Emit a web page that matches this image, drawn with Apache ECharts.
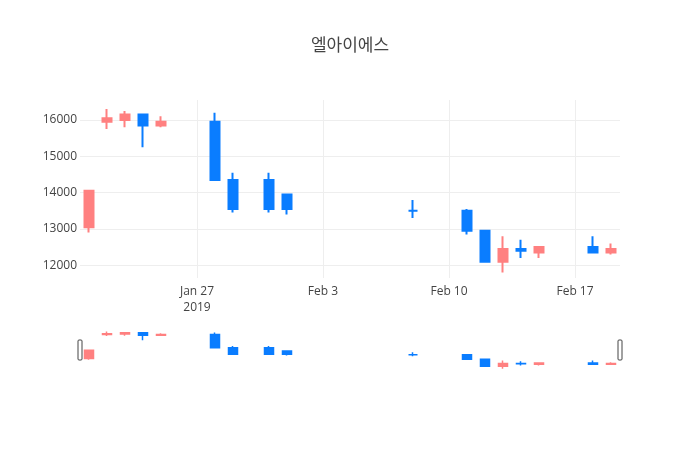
<!DOCTYPE html>
<html>
<head>
<meta charset="utf-8">
<script src="https://cdn.jsdelivr.net/npm/echarts@6/dist/echarts.min.js"></script>
<style>html,body{margin:0;padding:0;background:#fff;}#chart{width:700px;height:450px;}</style>
</head>
<body>
<div id="chart"></div>
<script>
const titleText = '엘아이에스';
const dates = ['2019-01-21','2019-01-22','2019-01-23','2019-01-24','2019-01-25','2019-01-28','2019-01-29','2019-01-31','2019-02-01','2019-02-08','2019-02-11','2019-02-12','2019-02-13','2019-02-14','2019-02-15','2019-02-18','2019-02-19'];
const openV  = [13050,15950,16000,16150,15850,15950,14350,14350,13950,13500,13500,12950,12100,12450,12350,12500,12350];
const closeV = [14050,16050,16150,15850,15950,14350,13550,13550,13550,13500,12950,12100,12450,12400,12500,12350,12450];
const lowV   = [12900,15750,15800,15250,15800,14350,13450,13450,13400,13300,12850,12100,11800,12200,12200,12350,12300];
const highV  = [14050,16300,16250,16150,16100,16200,14550,14550,13950,13800,13550,12950,12800,12700,12500,12800,12600];
const xTickDates = ['2019-01-27','2019-02-03','2019-02-10','2019-02-17'];
const xTickLabels = ['Jan 27\n2019','Feb 3','Feb 10','Feb 17'];
const yTicks = [12000,13000,14000,15000,16000];
const xStart = '2019-01-21', xEnd = '2019-02-19';
const yMin = 11650, yMax = 16550;

const UP = '#FF8080', DOWN = '#0A7DFF';
const FONT = '"Open Sans", "Noto Sans CJK KR", sans-serif';
function toTs(s){ const p = s.split('-').map(Number); return new Date(p[0], p[1]-1, p[2]).getTime(); }
const HALF = 12*3600*1000;
const xMin = toTs(xStart) - HALF, xMax = toTs(xEnd) + HALF;
const candleData = dates.map((d,i)=>[toTs(d), openV[i], closeV[i], lowV[i], highV[i]]);
const tickTs = xTickDates.map(toTs);

const chart = echarts.init(document.getElementById('chart'), null, {renderer:'canvas'});
chart.setOption({
  animation: false,
  backgroundColor: '#fff',
  title: { text: titleText, left: 'center', top: 33, textStyle: { fontFamily: FONT, fontSize: 17, fontWeight: 'normal', color: '#444' } },
  grid: [
    { left: 80, right: 80, top: 100, height: 178 },
    { left: 80, right: 80, top: 329.5, height: 40.5 }
  ],
  xAxis: [
    { type: 'value', gridIndex: 0, min: xMin, max: xMax, scale: true,
      axisLine: { show: false }, axisTick: { show: false, customValues: tickTs },
      splitLine: { show: true, lineStyle: { color: '#eee', width: 1 } },
      axisLabel: { customValues: tickTs, color: '#444', fontFamily: FONT, fontSize: 12, lineHeight: 16, margin: 6,
        formatter: function(v){ const i = tickTs.indexOf(v); return i >= 0 ? xTickLabels[i] : ''; } } },
    { type: 'value', gridIndex: 1, min: xMin, max: xMax, scale: true, show: false, splitLine: { show: false } }
  ],
  yAxis: [
    { type: 'value', gridIndex: 0, min: yMin, max: yMax, scale: true,
      axisLine: { show: false }, axisTick: { show: false, customValues: yTicks },
      splitLine: { show: true, lineStyle: { color: '#eee', width: 1 } },
      axisLabel: { customValues: yTicks, color: '#444', fontFamily: FONT, fontSize: 12, margin: 3,
        formatter: function(v){ return String(v); } } },
    { type: 'value', gridIndex: 1, min: yMin, max: yMax, scale: true, show: false, splitLine: { show: false } }
  ],
  series: [
    { type: 'candlestick', xAxisIndex: 0, yAxisIndex: 0, data: candleData, encode: { x: 0, y: [1,2,3,4] },
      barWidth: 9,
      itemStyle: { color: UP, color0: DOWN, borderColor: UP, borderColor0: DOWN, borderWidth: 2 } },
    { type: 'candlestick', xAxisIndex: 1, yAxisIndex: 1, data: candleData, encode: { x: 0, y: [1,2,3,4] },
      barWidth: 9, silent: true,
      itemStyle: { color: UP, color0: DOWN, borderColor: UP, borderColor0: DOWN, borderWidth: 1.5 } }
  ],
  graphic: [
    { type: 'rect', shape: { x: 78, y: 340, width: 4, height: 20, r: 1 }, style: { fill: '#fff', stroke: '#444', lineWidth: 1 } },
    { type: 'rect', shape: { x: 618, y: 340, width: 4, height: 20, r: 1 }, style: { fill: '#fff', stroke: '#444', lineWidth: 1 } }
  ]
});
</script>
</body>
</html>
